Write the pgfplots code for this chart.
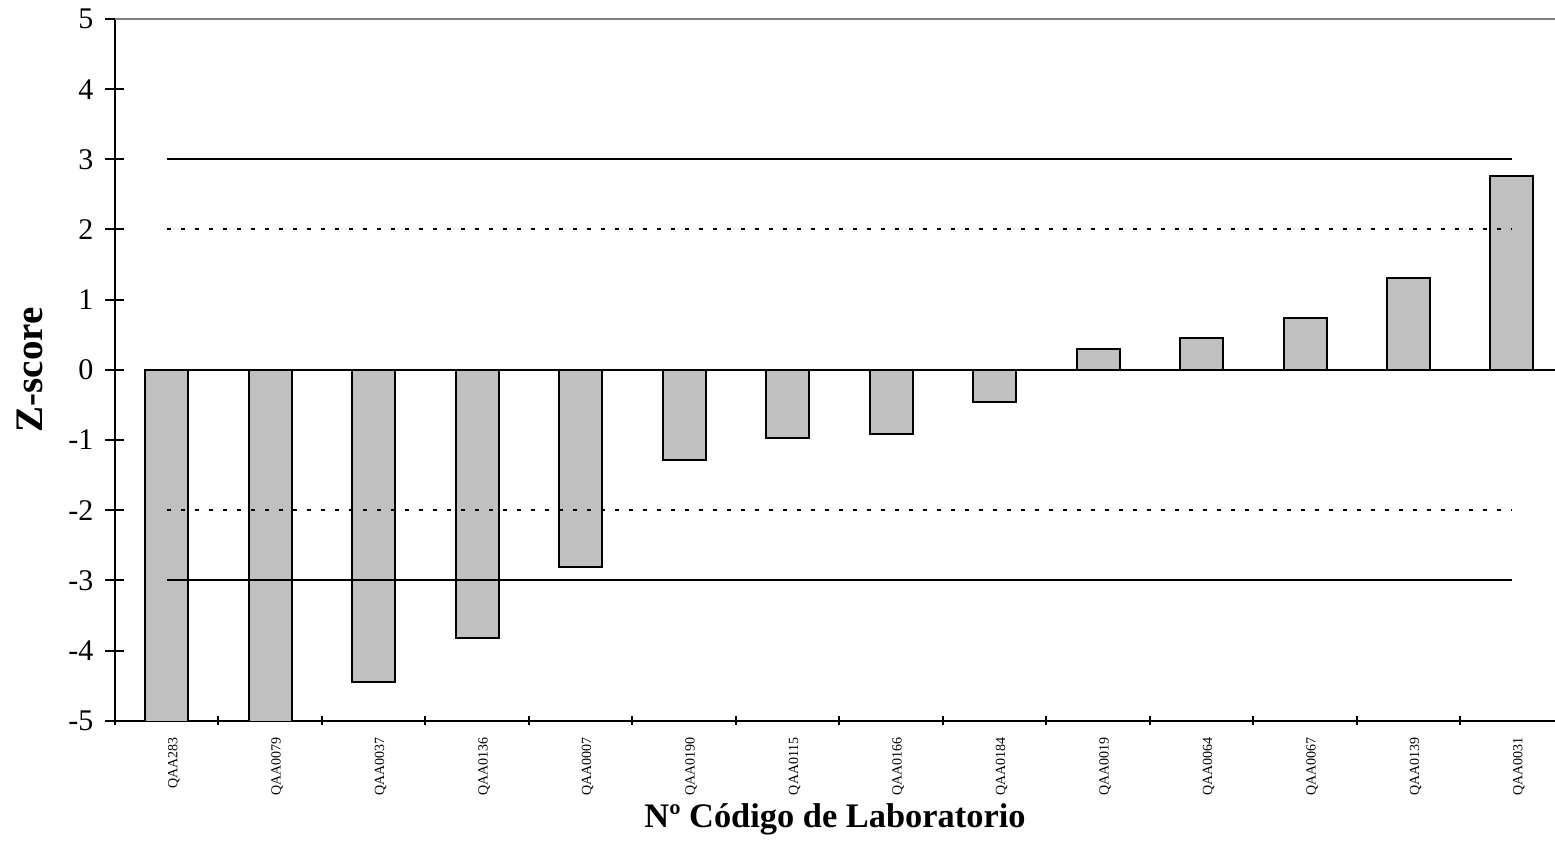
\documentclass[border=0pt]{standalone}
\usepackage{pgfplots}
\pgfplotsset{compat=1.18}
\usepackage{fontspec}
\setmainfont{Liberation Serif}
\definecolor{barfill}{RGB}{192,192,192}
\begin{document}
\begin{tikzpicture}
\begin{axis}[
  scale only axis, width=720pt, height=350.85pt,
  xmin=-0.5, xmax=13.416, ymin=-5, ymax=5,
  axis x line*=bottom, axis y line*=left,
  axis line style={line width=1pt},
  every tick/.style={black, line width=1pt},
  tick align=center,
  major tick length=9.5pt,
  minor tick length=4.5pt,
  ytick={-5,-4,-3,-2,-1,0,1,2,3,4,5},
  xtick={0,1,2,3,4,5,6,7,8,9,10,11,12,13},
  xticklabels={QAA283,QAA0079,QAA0037,QAA0136,QAA0007,QAA0190,QAA0115,QAA0166,QAA0184,QAA0019,QAA0064,QAA0067,QAA0139,QAA0031},
  minor xtick={-0.5,0.5,1.5,2.5,3.5,4.5,5.5,6.5,7.5,8.5,9.5,10.5,11.5,12.5},
  major x tick style={draw=none},
  /pgf/number format/assume math mode=true,
  yticklabel style={font=\fontsize{15}{17}\selectfont, anchor=east, xshift=-2.5pt},
  xticklabel style={font=\fontsize{7}{8}\selectfont, rotate=90, anchor=east, xshift=0pt, yshift=-3.5pt},
  every axis y label/.style={at={(axis description cs:-0.059,0.5)}, rotate=90, anchor=center, font=\fontsize{19.5}{22}\selectfont\bfseries},
  every axis x label/.style={at={(axis description cs:0.5,-0.141)}, anchor=center, font=\fontsize{17.2}{20}\selectfont\bfseries},
  ylabel={Z-score},
  xlabel={Nº Código de Laboratorio},
  clip=true,
]
\addplot[ybar, bar width=21.5pt, fill=barfill, draw=black, line width=1pt] coordinates {
  (0,-6) (1,-6) (2,-4.45) (3,-3.82) (4,-2.81) (5,-1.28) (6,-0.97)
  (7,-0.92) (8,-0.46) (9,0.29) (10,0.46) (11,0.74) (12,1.31) (13,2.76)
};
\addplot[black, line width=1pt] coordinates {(-0.208,0) (13.416,0)};
\addplot[black, line width=1pt] coordinates {(0,3) (13,3)};
\addplot[black, line width=1pt] coordinates {(0,-3) (13,-3)};
\addplot[black, line width=1pt, dash pattern=on 2pt off 5pt] coordinates {(0,2) (13,2)};
\addplot[black, line width=1pt, dash pattern=on 2pt off 5pt] coordinates {(0,-2) (13,-2)};
\draw[gray, line width=1pt] (rel axis cs:0,1) -- (rel axis cs:1,1);
\coordinate (O) at (rel axis cs:0,0);
\coordinate (T) at (rel axis cs:1,1);
\end{axis}
\pgfresetboundingbox
\path ([xshift=-57.5pt,yshift=-60.15pt]O) rectangle ([yshift=9.5pt]T);
\end{tikzpicture}
\end{document}
